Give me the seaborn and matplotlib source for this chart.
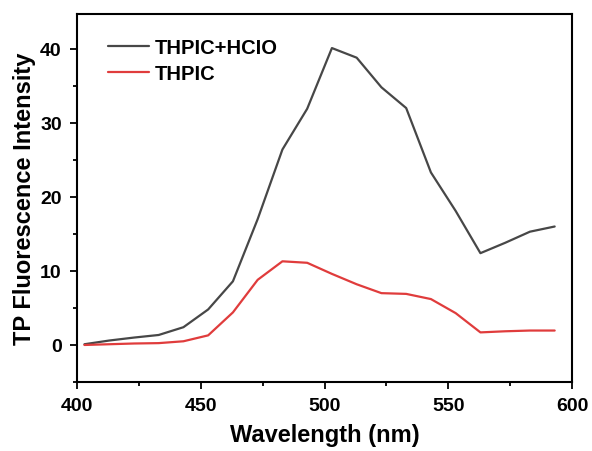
import numpy as np
import pandas as pd
import matplotlib
matplotlib.use('Agg')
import matplotlib.pyplot as plt
import seaborn as sns

wavelength = [403, 413, 423, 433, 443, 453, 463, 473, 483, 493,
              503, 513, 523, 533, 543, 553, 563, 573, 583, 593]
thpic_hclo = [0.1, 0.6, 1.0, 1.35, 2.4, 4.8, 8.6, 17.0, 26.4, 31.9,
              40.1, 38.8, 34.8, 32.0, 23.3, 18.1, 12.4, 13.8, 15.3, 16.0]
thpic = [0.0, 0.1, 0.2, 0.25, 0.5, 1.3, 4.4, 8.8, 11.3, 11.1,
         9.6, 8.2, 7.0, 6.9, 6.2, 4.3, 1.7, 1.85, 1.95, 1.95]
series_names = ['THPIC+HCIO', 'THPIC']

df = pd.DataFrame({'Wavelength': wavelength,
                   series_names[0]: thpic_hclo,
                   series_names[1]: thpic})
long_df = df.melt(id_vars='Wavelength', var_name='Sample', value_name='Intensity')

sns.set_style('ticks')
plt.rcParams['font.family'] = ['Liberation Sans', 'DejaVu Sans']
plt.rcParams['font.weight'] = 'bold'
plt.rcParams['text.color'] = 'black'
plt.rcParams['axes.labelcolor'] = 'black'
plt.rcParams['xtick.color'] = 'black'
plt.rcParams['ytick.color'] = 'black'

fig = plt.figure(figsize=(5.92, 4.52), dpi=100)
ax = fig.add_axes([77 / 592, 1 - 383 / 452, (572 - 77) / 592, (383 - 15) / 452])

sns.lineplot(data=long_df, x='Wavelength', y='Intensity', hue='Sample',
             palette={'THPIC+HCIO': '#474747', 'THPIC': '#e03c3c'},
             linewidth=1.6, ax=ax)

ax.set_xlim(400, 600)
ax.set_ylim(-5, 44.7)
ax.set_xticks([400, 450, 500, 550, 600])
ax.set_yticks([0, 10, 20, 30, 40])
ax.set_xticks([425, 475, 525, 575], minor=True)
ax.set_yticks([-5, 5, 15, 25, 35], minor=True)
ax.tick_params(which='major', direction='out', length=5, width=1.3,
               labelsize=14, pad=6)
ax.tick_params(which='minor', direction='out', length=3, width=1.3)
for s in ax.spines.values():
    s.set_linewidth(1.5)
    s.set_color('black')

ax.set_xlabel('Wavelength (nm)', fontsize=17, fontweight='bold', labelpad=6)
ax.set_ylabel('TP Fluorescence Intensity', fontsize=17, fontweight='bold', labelpad=3)

leg = ax.legend(title=None, frameon=False, loc='upper left',
                prop={'weight': 'bold', 'size': 14.5}, handlelength=2.0,
                handletextpad=0.3, labelspacing=0.35,
                bbox_to_anchor=(0.027, 0.983))

fig.savefig('out.png', dpi=100)
